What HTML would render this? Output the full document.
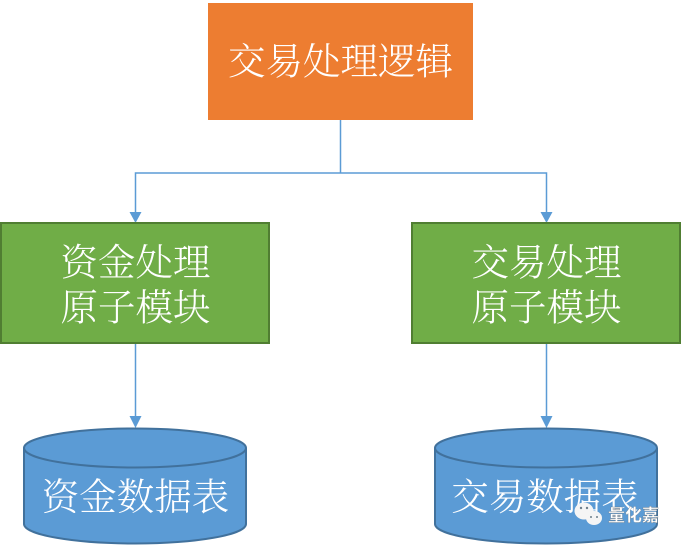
<!DOCTYPE html>
<html>
<head>
<meta charset="utf-8">
<style>
html,body{margin:0;padding:0;background:#fff;width:681px;height:545px;overflow:hidden}
svg{display:block}
text.t{font-family:"Liberation Serif","Noto Serif CJK SC",serif;font-size:37.5px;fill:#fff;text-anchor:middle;font-weight:300}
</style>
</head>
<body>
<svg width="681" height="545" viewBox="0 0 681 545" xmlns="http://www.w3.org/2000/svg">
<rect x="208" y="3" width="265" height="117" fill="#ed7d31"/>
<g stroke="#5b9bd5" stroke-width="1.5" fill="none">
<path d="M340.5 120V173"/>
<path d="M135.5 213V173H546.5V213"/>
<path d="M135.5 343V417"/>
<path d="M546.5 343V417"/>
</g>
<g fill="#5b9bd5">
<path d="M129.500 212H141.500L135.500 223Z"/>
<path d="M540.500 212H552.500L546.500 223Z"/>
<path d="M129.500 416H141.500L135.500 428Z"/>
<path d="M540.500 416H552.500L546.500 428Z"/>
</g>
<rect x="1" y="223" width="268" height="120" fill="#70ad47" stroke="#507e32" stroke-width="2"/>
<rect x="412" y="223" width="268" height="120" fill="#70ad47" stroke="#507e32" stroke-width="2"/>
<g fill="#5b9bd5" stroke="#41719c" stroke-width="2">
<path d="M24 448A111 19.500 0 0 1 246 448V524A111 19.500 0 0 1 24 524Z"/>
<path d="M24 448A111 19.500 0 0 0 246 448" fill="none"/>
<path d="M435 448A111 19.500 0 0 1 657 448V524A111 19.500 0 0 1 435 524Z"/>
<path d="M435 448A111 19.500 0 0 0 657 448" fill="none"/>
</g>
<text class="t" x="340.500" y="74.500">交易处理逻辑</text>
<text class="t" x="135.500" y="275.500">资金处理</text>
<text class="t" x="135.500" y="320.500">原子模块</text>
<text class="t" x="546.500" y="275.500">交易处理</text>
<text class="t" x="546.500" y="320.500">原子模块</text>
<text class="t" x="135.500" y="510">资金数据表</text>
<text class="t" x="545" y="510">交易数据表</text>
<g fill="#f5f5f5">
<ellipse cx="584" cy="511" rx="9.500" ry="8.500"/>
<ellipse cx="594" cy="518" rx="8" ry="7"/>
</g>
<g fill="#6d7f8c">
<circle cx="581" cy="508" r="1.200"/>
<circle cx="587" cy="508" r="1.200"/>
<circle cx="591" cy="517" r="1"/>
<circle cx="597" cy="517" r="1"/>
</g>
<text x="608" y="521" font-family="'Liberation Sans','Noto Sans CJK SC',sans-serif" font-size="17" font-weight="700" fill="#fff" stroke="#555" stroke-width="0.200">量化嘉</text>
</svg>
</body>
</html>
